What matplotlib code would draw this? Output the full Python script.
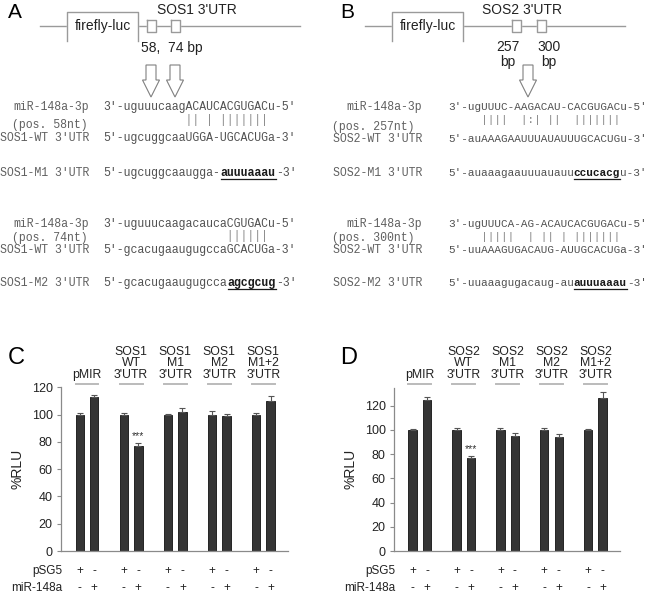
import re
import numpy as np
import matplotlib
matplotlib.use("Agg")
import matplotlib.pyplot as plt
from matplotlib.patches import Polygon

plt.rcParams['font.family'] = ['Liberation Sans', 'DejaVu Sans']

# ---- sequence alignments (bold/underlined parts in [ ])
mir_A = ["3'-uguuucaagACAUCACGUGACu-5'", "3'-uguuucaagacaucaCGUGACu-5'"]
pairs_A = ["            || | |||||||", "                  ||||||"]
pos_A = ["(pos. 58nt)", "(pos. 74nt)"]
wt_A = ["5'-ugcuggcaaUGGA-UGCACUGa-3'", "5'-gcacugaaugugccaGCACUGa-3'"]
mutlab_A = ["SOS1-M1 3'UTR", "SOS1-M2 3'UTR"]
mut_A = ["5'-ugcuggcaaugga-[auuuaaau]-3'", "5'-gcacugaaugugcca[agcgcug]-3'"]

mir_B = ["3'-ugUUUC-AAGACAU-CACGUGACu-5'", "3'-ugUUUCA-AG-ACAUCACGUGACu-5'"]
pairs_B = ["     ||||  |:| ||  |||||||", "     |||||  | || | |||||||"]
pos_B = ["(pos. 257nt)", "(pos. 300nt)"]
wt_B = ["5'-auAAAGAAUUUAUAUUUGCACUGu-3'", "5'-uuAAAGUGACAUG-AUUGCACUGa-3'"]
mutlab_B = ["SOS2-M1 3'UTR", "SOS2-M2 3'UTR"]
mut_B = ["5'-auaaagaauuuauauu[ccucacg]u-3'", "5'-uuaaagugacaug-au[auuuaaau]-3'"]

# ---- luciferase data (%RLU)
groups_C = ["pMIR", "SOS1\nWT\n3'UTR", "SOS1\nM1\n3'UTR", "SOS1\nM2\n3'UTR", "SOS1\nM1+2\n3'UTR"]
ctrl_C = [100, 100, 100, 100, 100]
ctrl_err_C = [1.5, 1.5, 0.5, 2.4, 1.2]
mir_C = [112.7, 76.9, 102.2, 99.0, 110.0]
mir_err_C = [1.7, 2.0, 2.5, 1.7, 3.7]
sig_C = ["", "***", "", "", ""]

groups_D = ["pMIR", "SOS2\nWT\n3'UTR", "SOS2\nM1\n3'UTR", "SOS2\nM2\n3'UTR", "SOS2\nM1+2\n3'UTR"]
ctrl_D = [100, 100, 100, 100, 100]
ctrl_err_D = [0.5, 2.0, 2.0, 2.0, 0.5]
mir_D = [124.8, 76.6, 95.3, 94.5, 126.7]
mir_err_D = [2.2, 2.2, 2.0, 2.2, 5.0]
sig_D = ["", "***", "", "", ""]

psg5 = ["+", "-"]
mir148 = ["-", "+"]

MONO = ['Liberation Mono', 'DejaVu Sans Mono']
FS_LAB = 8.3
SEQ_COL = '#505050'
LAB_COL = '#606060'
LINE_COL = '#9a9a9a'

fig = plt.figure(figsize=(6.5, 5.94), dpi=100)
ax0 = fig.add_axes([0, 0, 1, 1])
ax0.set_xlim(0, 650)
ax0.set_ylim(594, 0)
ax0.axis('off')


def split_parts(s):
    out = []
    for tok in re.split(r'(\[[^\]]*\])', s):
        if not tok:
            continue
        if tok.startswith('['):
            out.append((tok[1:-1], True))
        else:
            out.append((tok, False))
    return out


def seq(x, y, s, fs, color=SEQ_COL):
    cw = 0.6 * fs * 100 / 72  # px per monospace character
    for txt, bold in split_parts(s):
        if bold:
            ax0.text(x, y, txt, family=MONO, size=fs, weight='bold',
                     color='#1a1a1a', va='center', ha='left')
            ax0.plot([x, x + len(txt) * cw], [y + 5.5, y + 5.5], color='#1a1a1a', lw=0.9)
        else:
            ax0.text(x, y, txt, family=MONO, size=fs, color=color,
                     va='center', ha='left')
        x += len(txt) * cw


def arrow(cx):
    pts = [(cx - 5, 65), (cx + 5, 65), (cx + 5, 80), (cx + 8.5, 80),
           (cx, 97), (cx - 8.5, 80), (cx - 5, 80)]
    ax0.add_patch(Polygon(pts, closed=True, facecolor='white',
                          edgecolor='#808080', lw=0.8))


def construct(x0, utr_boxes, utr_label, utr_x):
    ax0.plot([x0 + 40, x0 + 300], [25.7, 25.7], color=LINE_COL, lw=1.0)
    ax0.fill_between([x0 + 67, x0 + 138], 12, 41, color='white', zorder=2)
    ax0.plot([x0 + 67, x0 + 67, x0 + 138, x0 + 138], [41, 12, 12, 41],
             color=LINE_COL, lw=1.0, zorder=3)
    ax0.text(x0 + 102.5, 26, "firefly-luc", fontsize=10, color='#222',
             ha='center', va='center', zorder=4)
    for bx in utr_boxes:
        ax0.fill_between([bx, bx + 9], 20, 32, color='white', zorder=2)
        ax0.plot([bx, bx + 9, bx + 9, bx, bx], [20, 20, 32, 32, 20],
                 color=LINE_COL, lw=1.0, zorder=3)
    ax0.text(utr_x, 10, utr_label, fontsize=10, color='#222',
             ha='center', va='center')


def alignment(xlab, xpos, xseq, fs, mir, pairs, pos, wt, wtlab, mutlab, mut, ys):
    y_mir, y_pair, y_pos, y_wt, y_mut = ys
    ax0.text(xlab, y_mir, "miR-148a-3p", family=MONO, size=FS_LAB,
             color=LAB_COL, ha='right', va='center')
    seq(xseq, y_mir, mir, fs)
    seq(xseq, y_pair, pairs, fs, color='#808080')
    ax0.text(xpos, y_pos, pos, family=MONO, size=FS_LAB, color=LAB_COL,
             ha='left', va='center')
    ax0.text(xlab, y_wt, wtlab, family=MONO, size=FS_LAB, color=LAB_COL,
             ha='right', va='center')
    seq(xseq, y_wt, wt, fs)
    ax0.text(xlab, y_mut, mutlab, family=MONO, size=FS_LAB, color=LAB_COL,
             ha='right', va='center')
    seq(xseq, y_mut, mut, fs)


# ---- panel A
ax0.text(15, 12.5, "A", fontsize=15, ha='center', va='center')
construct(0, [147, 171], "SOS1 3'UTR", 197)
ax0.text(172, 48, "58,  74 bp", fontsize=10, color='#222', ha='center', va='center')
arrow(151)
arrow(175)
ys_A = [(107, 120, 125, 138, 173), (224, 236, 237.5, 250, 283)]
for i in range(2):
    alignment(89, 12, 103, 8.3, mir_A[i], pairs_A[i], pos_A[i], wt_A[i],
              "SOS1-WT 3'UTR", mutlab_A[i], mut_A[i], ys_A[i])

# ---- panel B
ax0.text(347.5, 12.5, "B", fontsize=15, ha='center', va='center')
construct(325, [512, 537], "SOS2 3'UTR", 521.5)
for bx, lab in [(507.5, "257"), (549, "300")]:
    ax0.text(bx, 47, lab, fontsize=10, color='#222', ha='center', va='center')
    ax0.text(bx, 62, "bp", fontsize=10, color='#222', ha='center', va='center')
arrow(528)
ys_B = [(107, 120, 127, 139, 173), (224, 237, 238, 250, 283)]
for i in range(2):
    alignment(422, 332, 448, 7.95, mir_B[i], pairs_B[i], pos_B[i], wt_B[i],
              "SOS2-WT 3'UTR", mutlab_B[i], mut_B[i], ys_B[i])

# ---- panels C and D
OFF = 0.165
W = 0.19
BOT = 551.0


def bar_panel(left_px, right_px, top_px, ymax, groups, ctrl, ctrl_err, mir, mir_err, sig):
    h_px = BOT - top_px
    ax = fig.add_axes([left_px / 650, (594 - BOT) / 594,
                       (right_px - left_px) / 650, h_px / 594])
    x = np.arange(len(groups))
    zeros = np.zeros(len(groups))
    ekw = dict(elinewidth=0.8, capthick=0.8, ecolor='#555555')
    ax.bar(x - OFF, ctrl, W, color='#353535', edgecolor='#111111', lw=0.6,
           yerr=[zeros, ctrl_err], capsize=2.2, error_kw=ekw)
    ax.bar(x + OFF, mir, W, color='#353535', edgecolor='#111111', lw=0.6,
           yerr=[zeros, mir_err], capsize=2.2, error_kw=ekw)
    ax.set_xlim(-0.59, 4.56)
    ax.set_ylim(0, ymax)
    ax.set_yticks(np.arange(0, 121, 20))
    ax.set_xticks([])
    for s in ['top', 'right']:
        ax.spines[s].set_visible(False)
    for s in ['left', 'bottom']:
        ax.spines[s].set_color('#8a8a8a')
        ax.spines[s].set_linewidth(0.9)
    ax.tick_params(axis='y', direction='out', length=3, width=0.8,
                   colors='#8a8a8a', labelcolor='#222', labelsize=9, pad=3)
    ax.set_ylabel("%RLU", fontsize=10, color='#222', labelpad=5)

    tr = ax.get_xaxis_transform()
    for i, g in enumerate(groups):
        lines = g.split('\n')[::-1]
        for k, ln in enumerate(lines):
            ypx = 375 - 11.7 * k
            ax.annotate(ln, xy=(i, 0), xycoords=('data', 'axes fraction'),
                        xytext=(0, BOT - ypx), textcoords='offset pixels',
                        ha='center', va='center', fontsize=8.8, color='#222',
                        annotation_clip=False)
        yf = (BOT - 384) / h_px
        ax.plot([i - 0.26, i + 0.26], [yf, yf], transform=tr, color='#bbbbbb',
                lw=1.4, clip_on=False)
        if sig[i]:
            ax.text(i + OFF, mir[i] + mir_err[i] + 1.5, sig[i], ha='center',
                    va='bottom', fontsize=7.5, color='#333')
        for j, off in enumerate([-OFF, OFF]):
            ax.annotate(psg5[j], xy=(i + off, 0), xycoords=('data', 'axes fraction'),
                        xytext=(0, BOT - 571), textcoords='offset pixels',
                        ha='center', va='center', fontsize=8.5, color='#222',
                        annotation_clip=False)
            ax.annotate(mir148[j], xy=(i + off, 0), xycoords=('data', 'axes fraction'),
                        xytext=(0, BOT - 588), textcoords='offset pixels',
                        ha='center', va='center', fontsize=8.5, color='#222',
                        annotation_clip=False)
    ax.annotate("pSG5", xy=(0, 0), xycoords='axes fraction',
                xytext=(1, BOT - 571), textcoords='offset pixels',
                ha='right', va='center', fontsize=8.5, color='#222')
    ax.annotate("miR-148a", xy=(0, 0), xycoords='axes fraction',
                xytext=(1, BOT - 588), textcoords='offset pixels',
                ha='right', va='center', fontsize=8.5, color='#222')
    return ax


bar_panel(61, 288, 387.3, 120, groups_C, ctrl_C, ctrl_err_C, mir_C, mir_err_C, sig_C)
bar_panel(394, 620, 387.6, 135, groups_D, ctrl_D, ctrl_err_D, mir_D, mir_err_D, sig_D)
ax0.text(16, 357.5, "C", fontsize=17, ha='center', va='center')
ax0.text(349, 357.5, "D", fontsize=17, ha='center', va='center')

fig.savefig("out.png", dpi=100)
